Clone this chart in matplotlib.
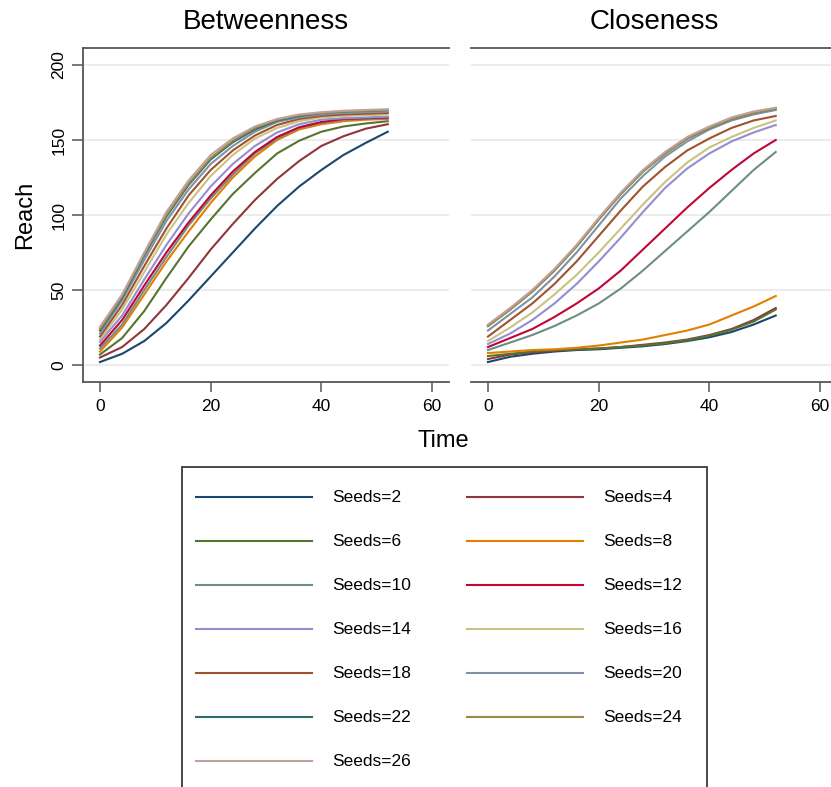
import matplotlib
matplotlib.use('Agg')
import matplotlib.pyplot as plt
from matplotlib.lines import Line2D
from matplotlib.patches import Rectangle

plt.rcParams['font.family'] = ['Liberation Sans', 'DejaVu Sans']

# Time points (weeks)
time = [0, 4, 8, 12, 16, 20, 24, 28, 32, 36, 40, 44, 48, 52]

seeds = [2, 4, 6, 8, 10, 12, 14, 16, 18, 20, 22, 24, 26]
colors = ['#1a476f', '#90353b', '#55752f', '#e37e00', '#6e8e84', '#c10534',
          '#938dd2', '#cac27e', '#a0522d', '#7b92a8', '#2d6d66', '#9c8847',
          '#bfa19c']

# Reach by seeding on betweenness
betweenness = [
    [2, 7.5, 16, 28, 43, 59, 75, 91, 106, 119, 130, 140, 148, 155.5],
    [5, 12, 24, 40, 58, 77, 94, 110, 124, 136, 146, 152.5, 157.5, 160.5],
    [7, 18, 36, 58, 79, 97, 114, 128, 141, 149.5, 155.5, 159, 161, 162.5],
    [9, 25, 47, 69, 89, 108, 125, 139, 150, 157, 160.5, 162.5, 163.5, 164],
    [11, 27, 50, 72, 93, 111, 127, 141, 151, 158, 161.5, 163.5, 164, 164.5],
    [13, 30, 53, 75, 95, 113, 129, 142, 152, 158.5, 162, 164, 164.5, 165],
    [15.5, 33, 57, 80, 101, 119, 134, 146, 155, 160.5, 163.5, 164.5, 165, 165.5],
    [17, 37, 62, 87, 108, 126, 140, 151, 158, 162.5, 165, 166, 166.5, 167],
    [19, 40, 66, 91, 113, 130, 143, 153, 160, 164, 166, 167, 167.5, 168],
    [21, 43, 70, 96, 117, 134, 146, 155.5, 162, 165, 167, 168, 168.5, 169],
    [23, 45, 73, 99, 120, 137, 148.5, 157, 163, 166, 168, 169, 169.5, 170],
    [24, 46, 74, 100, 121, 138, 149.5, 158, 163.5, 166.5, 168, 169, 169.5, 170],
    [25.5, 47, 75, 102, 123, 140, 151, 159, 164, 167, 168.5, 169.5, 170, 170.5],
]

# Reach by seeding on closeness
closeness = [
    [2, 5.5, 7.5, 9, 10, 10.5, 11.5, 12.5, 14, 16, 18.5, 22, 27, 33],
    [4, 7, 8.5, 9.5, 10.5, 11, 12, 13.5, 15, 17, 20, 24, 30, 38],
    [6, 7.5, 9, 10, 10.5, 11, 12, 13, 14.5, 16.5, 19.5, 23.5, 29, 37],
    [8, 9, 10, 10.5, 11.5, 13, 15, 17, 20, 23, 27, 33, 39, 46],
    [10, 15, 20, 26, 33, 41, 51, 63, 76, 89, 102, 116, 130, 142],
    [12, 18, 24, 32, 41, 51, 63, 77, 91, 105, 118, 130, 141, 150],
    [14, 21, 30, 41, 54, 69, 85, 102, 118, 131, 141, 149, 155, 160],
    [16, 25, 35, 47, 60, 75, 91, 107, 122, 135, 145, 152, 158, 163],
    [19, 30, 41, 54, 69, 86, 103, 119, 132, 143, 151, 158, 163, 166],
    [23, 34, 45, 59, 75, 93, 111, 126, 139, 149, 157, 163, 167, 170],
    [26, 37, 49, 63, 79, 97, 114, 129, 141, 151, 158, 164, 168, 171],
    [26, 37, 49, 63, 79, 97, 114, 129, 141, 151, 158, 164, 168, 171],
    [27, 38, 50, 64, 80, 98, 115, 130, 142, 152, 159, 165, 169, 171.5],
]

panels = ['Betweenness', 'Closeness']
yticks = [0, 50, 100, 150, 200]
xticks = [0, 20, 40, 60]

W, H = 831, 787
fig = plt.figure(figsize=(W / 100, H / 100), dpi=100)


def fx(px):
    return px / W


def fy(py):
    return 1 - py / H


axis_color = '#555555'
ax_w = 366 / W
ax_h = 334 / H
lefts = [83 / W, 471 / W]

for i, (name, data) in enumerate(zip(panels, [betweenness, closeness])):
    ax = fig.add_axes([lefts[i], fy(382), ax_w, ax_h])
    for s, c, vals in zip(seeds, colors, data):
        ax.plot(time, vals, color=c, lw=1.5, solid_joinstyle='round')
    ax.set_xlim(-3.07, 63.07)
    ax.set_ylim(-11.3, 211.3)
    ax.set_xticks(xticks)
    ax.set_yticks(yticks)
    for y in yticks:
        ax.axhline(y, color='#ebebeb', lw=1.3, zorder=0)
    ax.spines['right'].set_visible(False)
    for sp in ['top', 'bottom', 'left']:
        ax.spines[sp].set_color(axis_color)
        ax.spines[sp].set_linewidth(1.3)
    ax.tick_params(axis='x', length=7.5, width=1.1, color=axis_color,
                   labelsize=12.5, pad=5)
    if i == 0:
        ax.tick_params(axis='y', length=8, width=1.1, color=axis_color,
                       labelsize=12.5, pad=4)
        for lab in ax.get_yticklabels():
            lab.set_rotation(90)
            lab.set_va('center')
    else:
        ax.spines['left'].set_visible(False)
        ax.tick_params(axis='y', left=False, labelleft=False)
    fig.text(lefts[i] + ax_w / 2, fy(22), name, ha='center', va='center',
             fontsize=20)

fig.text(fx(25), fy(215), 'Reach', rotation=90, ha='center', va='center',
         fontsize=17)
fig.text(fx(443.5), fy(441), 'Time', ha='center', va='center', fontsize=17)

# Legend box with two columns of keys
fig.add_artist(Rectangle((fx(182), fy(800)), fx(707) - fx(182),
                         fy(467) - fy(800), transform=fig.transFigure,
                         fill=False, edgecolor='#3a3a3a', lw=1.3))
col_x = [(196, 312, 332), (467, 583, 603)]
for k, (s, c) in enumerate(zip(seeds, colors)):
    row, col = divmod(k, 2)
    x0, x1, xt = col_x[col]
    yy = fy(497 + 44 * row)
    fig.add_artist(Line2D([fx(x0), fx(x1)], [yy, yy], color=c, lw=1.5,
                          transform=fig.transFigure))
    fig.text(fx(xt), yy, f'Seeds={s}', ha='left', va='center', fontsize=12.5)

fig.savefig('out.png', dpi=100)
